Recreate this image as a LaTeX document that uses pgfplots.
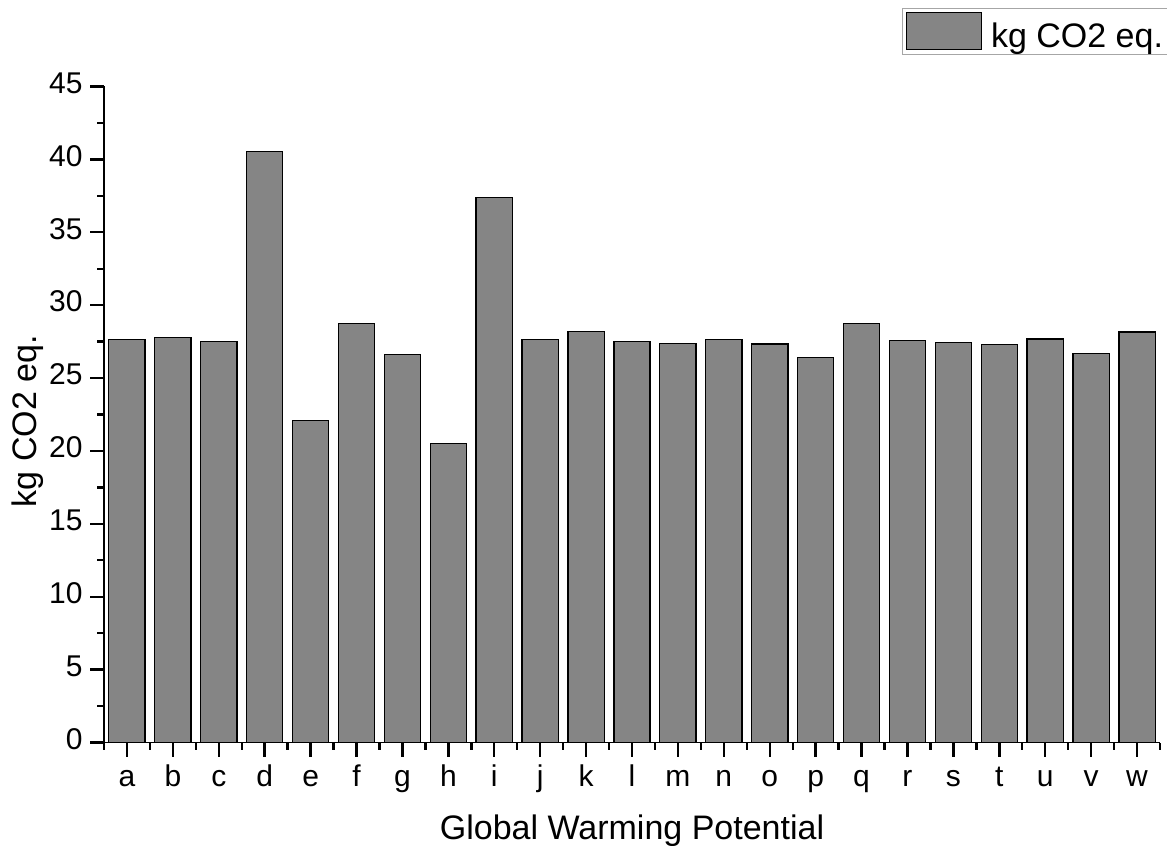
\documentclass[border=0pt]{standalone}
\usepackage{pgfplots}
\pgfplotsset{compat=1.18}
\usepackage{fontspec}
\setmainfont{Liberation Sans}
\definecolor{barfill}{RGB}{133,133,133}
\pgfplotsset{mybarlegend/.style={legend image code/.code={\draw[##1, line width=1.3pt] (0pt,-13pt) rectangle (75pt,24pt); \path (82pt,0pt);}}}
\begin{document}
\begin{tikzpicture}
\begin{axis}[
  name=ax,
  at={(0,0)}, anchor=south west,
  scale only axis,
  width=1056pt, height=656pt,
  xmin=-0.5, xmax=22.5, ymin=0, ymax=45,
  enlarge x limits=false,
  axis x line=bottom, axis y line=left,
  axis line style={-, line width=1.8pt, black},
  ybar, bar width=0.79,
  xtick={0,...,22},
  xticklabels={a,b,c,d,e,f,g,h,i,j,k,l,m,n,o,p,q,r,s,t,u,v,w},
  minor xtick={-0.5,0.5,...,22.5},
  ytick={0,5,...,45},
  minor ytick={2.5,7.5,...,42.5},
  tick align=outside,
  major tick length=14pt, minor tick length=7pt,
  tick style={black, line width=2.4pt},
  typeset ticklabels with strut,
  /pgf/number format/assume math mode=true,
  xticklabel style={font=\fontsize{30}{34}\selectfont, yshift=-3pt},
  yticklabel style={font=\fontsize{30}{34}\selectfont, xshift=-4pt},
  xlabel={Global Warming Potential},
  ylabel={kg CO2 eq.},
  label style={font=\fontsize{34}{38}\selectfont},
  xlabel style={at={(axis description cs:0.5,-0.134)}, anchor=center},
  ylabel style={at={(axis description cs:-0.072,0.49)}, anchor=center},
  legend style={at={(1,1)}, anchor=south east, xshift=8.5pt, yshift=31.5pt,
    draw=gray!70, line width=1pt, inner sep=3pt,
    font=\fontsize{34}{38}\selectfont},
]
\addplot[fill=barfill, draw=black, line width=1.3pt, mybarlegend]
  coordinates {
  (0,27.64) (1,27.78) (2,27.53) (3,40.56) (4,22.10) (5,28.72) (6,26.61)
  (7,20.50) (8,37.40) (9,27.64) (10,28.19) (11,27.53) (12,27.39) (13,27.64)
  (14,27.33) (15,26.43) (16,28.76) (17,27.60) (18,27.42) (19,27.28)
  (20,27.67) (21,26.70) (22,28.15)
  };
\addlegendentry{kg CO2 eq.}
\end{axis}
\pgfresetboundingbox
\useasboundingbox ([xshift=-104pt,yshift=-102.5pt]ax.south west) rectangle ([xshift=7pt,yshift=86.5pt]ax.north east);
\end{tikzpicture}
\end{document}
